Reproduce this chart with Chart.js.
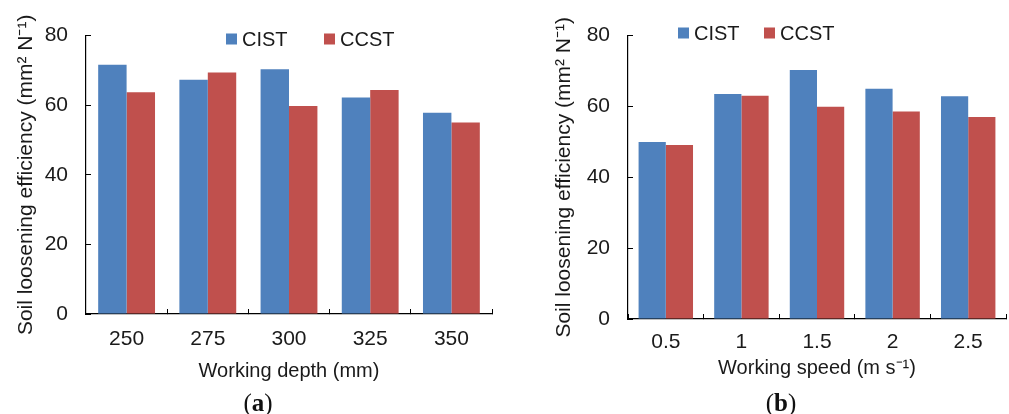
<!DOCTYPE html>
<html>
<head>
<meta charset="utf-8">
<script src="https://cdn.jsdelivr.net/npm/chart.js@4/dist/chart.umd.min.js"></script>
<style>
    body { margin: 0; background: #fff; }
    #page { position: relative; width: 1009px; height: 414px; overflow: hidden; }
    .chart-box { position: absolute; top: 0; height: 390px; }
    .caption {
        position: absolute; top: 389px; width: 60px; margin-left: -30px; line-height: 28px;
        text-align: center; font-family: 'Liberation Serif', serif; font-size: 25px; color: #111;
    }
</style>
</head>
<body>
<div id="page">
    <div class="chart-box" style="left:0; width:500px;"><canvas id="depthChart"></canvas></div>
    <div class="chart-box" style="left:500px; width:509px;"><canvas id="speedChart"></canvas></div>
    <div class="caption" style="left:258px;">(<b>a</b>)</div>
    <div class="caption" style="left:781px;">(<b>b</b>)</div>
</div>
<script>
// --- Data ---
const depthLabels = ['250', '275', '300', '325', '350'];
const depthCIST = [71.6, 67.3, 70.3, 62.2, 57.8];
const depthCCST = [63.7, 69.4, 59.8, 64.4, 55.0];

const speedLabels = ['0.5', '1', '1.5', '2', '2.5'];
const speedCIST = [50.0, 63.5, 70.3, 65.0, 62.9];
const speedCCST = [49.1, 63.0, 59.9, 58.6, 57.0];

const yMin = 0;
const yMax = 80;
const yStep = 20;

const BLUE = '#4f81bd';
const RED = '#c0504d';
const TEXT = '#1a1a1a';
const FONT = "'Liberation Sans', Arial, sans-serif";

// --- Legend drawn inside the plot area ---
const insideLegend = {
    id: 'insideLegend',
    afterDraw(chart, args, opts) {
        const ctx = chart.ctx;
        ctx.save();
        ctx.font = `20px ${FONT}`;
        ctx.textBaseline = 'middle';
        chart.data.datasets.forEach((ds, i) => {
            const x = opts.xs[i];
            ctx.fillStyle = ds.backgroundColor;
            ctx.fillRect(x, opts.y - 5.5, 11, 11);
            ctx.fillStyle = TEXT;
            ctx.fillText(ds.label, x + 16, opts.y + 1);
        });
        ctx.restore();
    }
};

function makeChart(id, labels, cist, ccst, cfg) {
    const ctx = document.getElementById(id).getContext('2d');
    return new Chart(ctx, {
        type: 'bar',
        data: {
            labels,
            datasets: [
                { label: 'CIST', data: cist, backgroundColor: BLUE },
                { label: 'CCST', data: ccst, backgroundColor: RED }
            ]
        },
        plugins: [insideLegend],
        options: {
            responsive: true,
            maintainAspectRatio: false,
            animation: false,
            categoryPercentage: cfg.catPct,
            barPercentage: 1,
            layout: { padding: { left: 0, top: 22, right: cfg.padRight, bottom: 0 } },
            plugins: {
                legend: { display: false },
                tooltip: { enabled: false },
                insideLegend: { xs: cfg.legendXs, y: cfg.legendY }
            },
            scales: {
                x: {
                    afterFit: s => { s.height = cfg.xHeight; },
                    grid: { drawOnChartArea: false, tickLength: -5, color: '#000', offset: true },
                    border: { color: '#000', width: 1.2 },
                    ticks: { color: TEXT, font: { family: FONT, size: 21 }, padding: cfg.xTickPad },
                    title: {
                        display: true,
                        text: cfg.xTitle,
                        color: TEXT,
                        font: { family: FONT, size: 20 },
                        padding: { top: 0, bottom: cfg.xTitlePad }
                    }
                },
                y: {
                    min: yMin,
                    max: yMax,
                    afterFit: s => { s.width = cfg.yWidth; },
                    grid: { drawOnChartArea: false, tickLength: -5, color: '#000' },
                    border: { color: '#000', width: 1.2 },
                    ticks: { stepSize: yStep, color: TEXT, font: { family: FONT, size: 21 }, padding: 23 },
                    title: {
                        display: true,
                        text: 'Soil loosening efficiency (mm² N⁻¹)',
                        color: TEXT,
                        font: { family: FONT, size: 21 },
                        padding: { top: cfg.yTitlePad, bottom: 0 }
                    }
                }
            }
        }
    });
}

makeChart('depthChart', depthLabels, depthCIST, depthCCST, {
    catPct: 0.7,
    padRight: 8,
    xHeight: 76,
    xTickPad: 18,
    xTitlePad: 7,
    xTitle: 'Working depth (mm)',
    yWidth: 86,
    yTitlePad: 14,
    legendXs: [226, 324],
    legendY: 39
});

makeChart('speedChart', speedLabels, speedCIST, speedCCST, {
    catPct: 0.72,
    padRight: 3,
    xHeight: 71,
    xTickPad: 16,
    xTitlePad: 10,
    xTitle: 'Working speed (m s⁻¹)',
    yWidth: 128,
    yTitlePad: 52,
    legendXs: [178, 264],
    legendY: 33
});
</script>
</body>
</html>
